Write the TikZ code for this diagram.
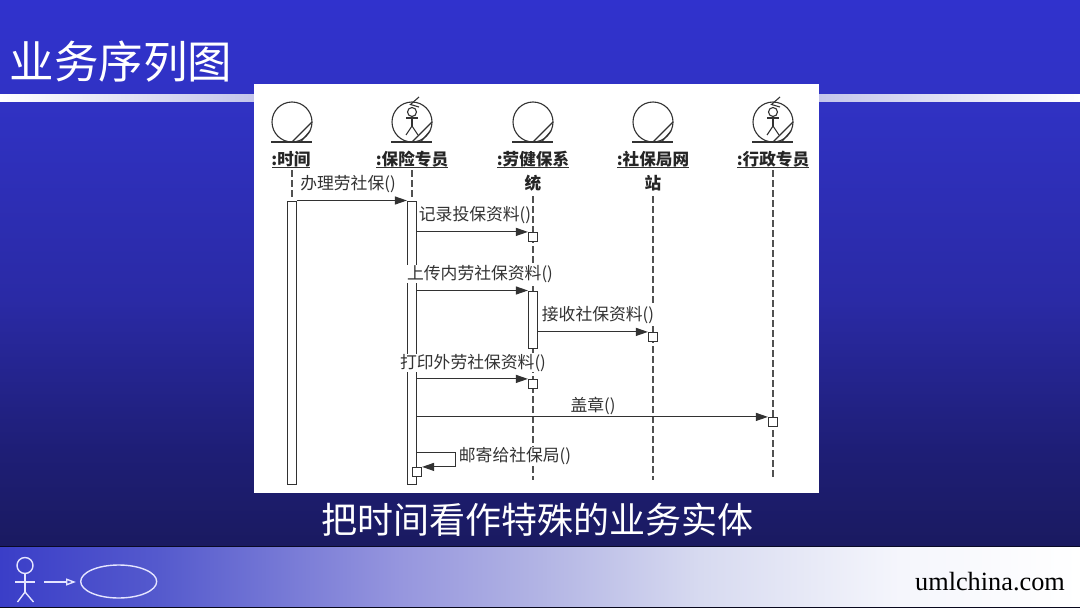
\documentclass[tikz,border=0pt]{standalone}
\usepackage{fontspec}
\setmainfont{Noto Sans CJK SC}
\newfontfamily\latinserif{Liberation Serif}
\usetikzlibrary{arrows.meta,shapes.geometric}
\definecolor{bgtop}{RGB}{48,50,205}
\definecolor{bgA}{RGB}{48,50,196}
\definecolor{bgB}{RGB}{42,42,165}
\definecolor{bgC}{RGB}{30,30,118}
\definecolor{bgbot}{RGB}{26,26,96}
\definecolor{barA}{RGB}{58,62,200}
\definecolor{barB}{RGB}{85,90,205}
\definecolor{barC}{RGB}{150,150,222}
\definecolor{barD}{RGB}{178,180,228}
\definecolor{barE}{RGB}{215,218,240}
\definecolor{barF}{RGB}{245,246,252}
\definecolor{ink}{RGB}{50,50,50}
\definecolor{rulefade}{RGB}{195,197,235}
\tikzset{
  x=1pt,y=-1pt,
  lifeline/.style={draw=ink!85,line width=1.1pt,dash pattern=on 7pt off 3pt},
  activation/.style={draw=ink,fill=white,line width=1.2pt},
  msg/.style={draw=ink,line width=1.1pt,-{Triangle[length=12pt,width=8pt]}},
  role/.style={draw=ink,line width=1.1pt},
  roletext/.style={font=\fontsize{16.6}{20}\selectfont\bfseries,text=black!85,inner sep=0pt,anchor=center},
  msgtext/.style={font=\fontsize{16.8}{20}\selectfont,text=ink,fill=white,inner sep=0.5pt,anchor=center},
  slidetext/.style={text=white,inner sep=0pt,anchor=center},
  footline/.style={draw=white!90!blue,line width=1.4pt}
}
\newcommand{\ulab}[3]{\draw[ink,line width=1.1pt] (#1-#3,#2) -- (#1+#3,#2);}
\newcommand{\robust}[2]{%
  \draw[role] (#1,#2) circle (20);
  \draw[role] (#1-21,#2+20) -- (#1+20,#2+20);
  \draw[role] (#1,#2+20) -- (#1+20,#2);
  \draw[role] (#1+8.5,#2+20) -- (#1+18,#2+9);}
\newcommand{\stick}[2]{%
  \draw[role] (#1,#2-10) circle (4.5);
  \draw[role] (#1,#2-5.5) -- (#1,#2+4);
  \draw[role] (#1-6,#2-4) -- (#1+6,#2-4);
  \draw[role] (#1,#2+4) -- (#1-6,#2+13);
  \draw[role] (#1,#2+4) -- (#1+6,#2+13);
  \draw[role] (#1+7,#2-25) -- (#1-1.5,#2-17.5) -- (#1+7,#2-15);}
\newcommand{\vband}[4]{\shade[top color=#1,bottom color=#2] (0,#3) rectangle (1080,#4);}
\newcommand{\hband}[4]{\shade[left color=#1,right color=#2] (#3,547) rectangle (#4,608);}
\begin{document}
\begin{tikzpicture}
\useasboundingbox (0,0) rectangle (1080,608);
% background
\vband{bgtop}{bgA}{0}{100}
\vband{bgA}{bgB}{100}{300}
\vband{bgB}{bgC}{300}{450}
\vband{bgC}{bgbot}{450}{547}
\fill[black!60!bgbot] (0,546) rectangle (1080,547);
\hband{barA}{barB}{0}{160}
\hband{barB}{barC}{160}{400}
\hband{barC}{barD}{400}{540}
\hband{barD}{barE}{540}{700}
\hband{barE}{barF}{700}{900}
\hband{barF}{white}{900}{1080}
\fill[black!70!bgbot] (0,607) rectangle (1080,608);
% title and rule
\shade[left color=white,right color=rulefade] (0,94) rectangle (254,101);
\shade[left color=rulefade,right color=white] (819,94) rectangle (1080,101);
\node[slidetext,font=\fontsize{44.5}{52}\selectfont] (title) at (121,62) {业务序列图};
% diagram panel
\fill[white] (254,84) rectangle (819,493);
% lifelines
\coordinate (t0) at (292,170); \coordinate (b0) at (292,200);
\coordinate (t1) at (412,170); \coordinate (b1) at (412,200);
\coordinate (t2) at (533,196); \coordinate (b2) at (533,480);
\coordinate (t3) at (653,196); \coordinate (b3) at (653,480);
\coordinate (t4) at (773,170); \coordinate (b4) at (773,478);
\draw[lifeline] (t0) -- (b0);
\draw[lifeline] (t1) -- (b1);
\draw[lifeline] (t2) -- (b2);
\draw[lifeline] (t3) -- (b3);
\draw[lifeline] (t4) -- (b4);
% icons
\robust{292}{122}
\robust{412}{122}\stick{412}{122}
\robust{533}{122}
\robust{653}{122}
\robust{773}{122}\stick{773}{122}
% role labels
\node[roletext] (r0) at (291,159) {:时间};
\node[roletext] (r1) at (412,159) {:保险专员};
\node[roletext] (r2) at (533,159) {:劳健保系};
\node[roletext] (r2b) at (533,183) {统};
\node[roletext] (r3) at (653,159) {:社保局网};
\node[roletext] (r3b) at (653,183) {站};
\node[roletext] (r4) at (773,159) {:行政专员};
\ulab{291}{167.5}{19}
\ulab{412}{167.5}{36}
\ulab{533}{167.5}{36}
\ulab{653}{167.5}{36}
\ulab{773}{167.5}{36}
% activations
\node[activation,minimum width=9pt,minimum height=283pt,inner sep=0pt,anchor=north] (a0) at (292,200.5) {};
\node[activation,minimum width=9pt,minimum height=283pt,inner sep=0pt,anchor=north] (a1) at (412,200.5) {};
\node[activation,minimum width=9pt,minimum height=57pt,inner sep=0pt,anchor=north] (a2) at (533,290.5) {};
\node[activation,minimum width=9pt,minimum height=9pt,inner sep=0pt] (s1) at (533,237) {};
\node[activation,minimum width=9pt,minimum height=9pt,inner sep=0pt] (s2) at (653,337) {};
\node[activation,minimum width=9pt,minimum height=9pt,inner sep=0pt] (s3) at (533,384) {};
\node[activation,minimum width=9pt,minimum height=9pt,inner sep=0pt] (s4) at (773,422) {};
\node[activation,minimum width=9pt,minimum height=9pt,inner sep=0pt] (s5) at (417,472) {};
% messages
\draw[msg] (a0.north east) -- (a1.north west);
\draw[msg] (a1.east |- s1.north) -- (s1.north west);
\draw[msg] (a1.east |- a2.north) -- (a2.north west);
\draw[msg] (a2.east |- s2.north) -- (s2.north west);
\draw[msg] (a1.east |- s3.north) -- (s3.north west);
\draw[msg] (a1.east |- s4.north) -- (s4.north west);
\draw[msg] (a1.east |- 0,452.5) -- (455.5,452.5) |- (s5.north east);
% message labels
\node[msgtext] (m1) at (348,184) {办理劳社保()};
\node[msgtext] (m2) at (475,215) {记录投保资料()};
\node[msgtext] (m3) at (480,274) {上传内劳社保资料()};
\node[msgtext] (m4) at (598,315) {接收社保资料()};
\node[msgtext] (m5) at (473,363) {打印外劳社保资料()};
\node[msgtext] (m6) at (593,406) {盖章()};
\node[msgtext] (m7) at (515,456) {邮寄给社保局()};
% caption
\node[slidetext,font=\fontsize{36}{42}\selectfont] (cap) at (537,520) {把时间看作特殊的业务实体};
% footer logo
\draw[footline] (25,565.5) circle (8);
\draw[footline] (25,573.5) -- (25,592);
\draw[footline] (15,582) -- (35,582);
\draw[footline] (25,592) -- (17.5,602);
\draw[footline] (25,592) -- (33.5,602);
\node[draw=white!90!blue,line width=1.4pt,ellipse,minimum width=76pt,minimum height=33pt,inner sep=0pt] (uc) at (118.7,581.5) {};
\coordinate (ar) at (44,582);
\coordinate (ae) at (76,582);
\draw[footline,-{Triangle[open,length=10pt,width=7pt]}] (ar) -- (ae);
\node[font=\fontsize{26.3}{30}\selectfont\latinserif,text=black,inner sep=0pt] (url) at (990,582) {umlchina.com};
\end{tikzpicture}
\end{document}
